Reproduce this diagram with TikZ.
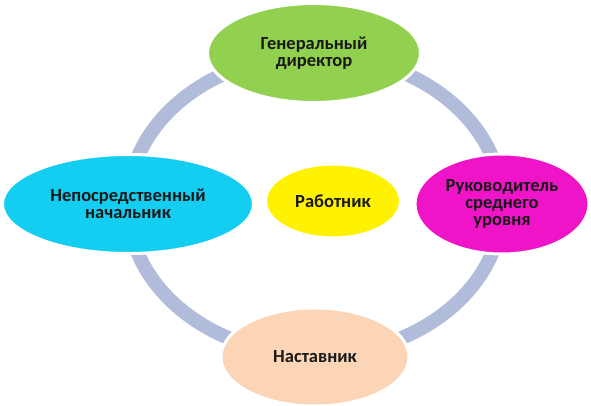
\documentclass[tikz,border=0pt]{standalone}
\usepackage{fontspec}
\setmainfont{Carlito}
\usetikzlibrary{shapes.geometric}
\definecolor{boss}{HTML}{92D050}
\definecolor{chief}{HTML}{14CEF2}
\definecolor{middle}{HTML}{F014C8}
\definecolor{mentor}{HTML}{FBD5B5}
\definecolor{ringcol}{HTML}{B0BCD9}

\begin{document}
\begin{tikzpicture}[x=1pt, y=-1pt,
  role/.style={draw=white, line width=3pt, ellipse, inner sep=0pt, align=center,
    font=\fontsize{18.5}{17}\selectfont\bfseries, text=black!90},
  ring/.style={draw=ringcol, line width=14pt}]
\useasboundingbox (0,0) rectangle (591,406);
% Ring
\coordinate (hub) at (315,205);
\draw[ring] (hub) ellipse [x radius=187pt, y radius=150pt];

% Roles round the ring
\node[role, fill=boss, minimum width=213pt, minimum height=99pt] (gen) at (314,53) {Генеральный\\директор};
\node[role, fill=chief, minimum width=251pt, minimum height=99pt] (near) at (128,204) {Непосредственный\\начальник};
\node[role, fill=middle, minimum width=174pt, minimum height=100pt] (mid) at (502,204) {Руководитель\\среднего\\уровня};
\node[role, fill=mentor, minimum width=188pt, minimum height=98pt] (ment) at (315,357) {Наставник};

% Centre
\node[role, fill=yellow, minimum width=135pt, minimum height=74pt] (work) at (333,201) {Работник};
\end{tikzpicture}
\end{document}
